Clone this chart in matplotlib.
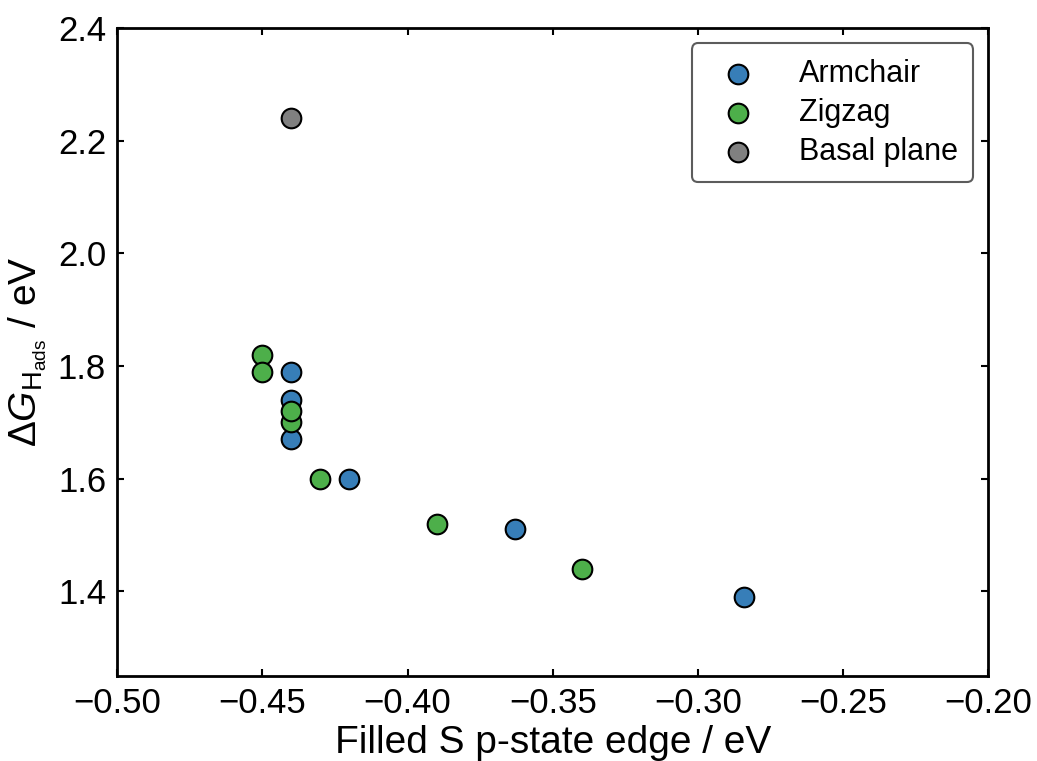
import matplotlib
matplotlib.use("Agg")
import matplotlib.pyplot as plt

plt.rcParams['font.family'] = ['Liberation Sans', 'DejaVu Sans']
plt.rcParams['mathtext.fontset'] = 'custom'
plt.rcParams['mathtext.it'] = 'Liberation Sans:italic'
plt.rcParams['mathtext.rm'] = 'Liberation Sans'

# --- data ---
arm_x = [-0.44, -0.44, -0.44, -0.42, -0.363, -0.284]
arm_y = [1.79, 1.74, 1.67, 1.60, 1.51, 1.39]
zig_x = [-0.45, -0.45, -0.44, -0.44, -0.43, -0.39, -0.34]
zig_y = [1.82, 1.79, 1.70, 1.72, 1.60, 1.52, 1.44]
bas_x = [-0.44]
bas_y = [2.24]

fig = plt.figure(figsize=(10.37, 7.61), dpi=100)
ax = fig.add_axes([0.113, 0.112, 0.840, 0.851])

kw = dict(s=200, edgecolors='black', linewidths=1.5, zorder=3)
ax.scatter(arm_x, arm_y, color='#377eb8', label='Armchair', **kw)
ax.scatter(zig_x, zig_y, color='#4daf4a', label='Zigzag', **kw)
ax.scatter(bas_x, bas_y, color='#808080', label='Basal plane', **kw)

ax.set_xlim(-0.5, -0.2)
ax.set_ylim(1.25, 2.4)
ax.set_xticks([-0.5, -0.45, -0.4, -0.35, -0.3, -0.25, -0.2])
ax.set_yticks([1.4, 1.6, 1.8, 2.0, 2.2, 2.4])
ax.set_xticklabels(['\u22120.50', '\u22120.45', '\u22120.40', '\u22120.35', '\u22120.30', '\u22120.25', '\u22120.20'])
ax.set_yticklabels(['1.4', '1.6', '1.8', '2.0', '2.2', '2.4'])
ax.tick_params(direction='in', length=5, width=1.5, labelsize=25, pad=8,
               top=True, right=True)
for sp in ax.spines.values():
    sp.set_linewidth(2)

ax.set_xlabel('Filled S p-state edge / eV', fontsize=28, labelpad=4)
ax.set_ylabel(r'$\Delta G_{\mathrm{H_{ads}}}$ / eV', fontsize=28, labelpad=6)

leg = ax.legend(loc='upper right', fontsize=22, scatterpoints=1, markerscale=1.0,
                frameon=True, fancybox=True, handletextpad=1.0, borderpad=0.5,
                labelspacing=0.3)
leg.get_frame().set_edgecolor('#333333')
leg.get_frame().set_linewidth(1.5)

fig.savefig('out.png', dpi=100)
